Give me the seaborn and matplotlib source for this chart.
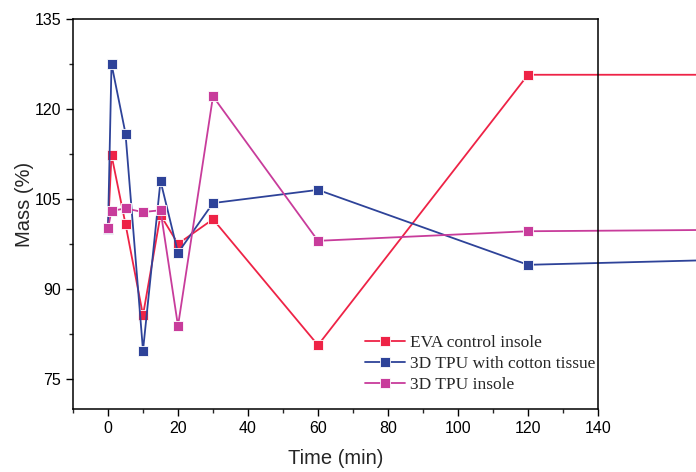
import numpy as np
import pandas as pd
import matplotlib
matplotlib.use("Agg")
import matplotlib.pyplot as plt
from matplotlib.ticker import MultipleLocator
import seaborn as sns

# time points (min); last one sits past the axis limit, as in the original
time_min = [0, 1, 5, 10, 15, 20, 30, 60, 120, 180]
eva_control = [100.0, 112.3, 100.8, 85.6, 102.3, 97.5, 101.6, 80.6, 125.7, 125.7]
tpu_cotton = [100.0, 127.5, 115.9, 79.7, 108.0, 96.0, 104.3, 106.5, 94.0, 94.9]
tpu_insole = [100.1, 103.0, 103.4, 102.8, 103.1, 83.8, 122.1, 98.0, 99.6, 99.85]
labels = ["EVA control insole", "3D TPU with cotton tissue", "3D TPU insole"]
colors = ["#EE2346", "#2E4399", "#C83C9B"]

df = pd.concat([
    pd.DataFrame({"Time (min)": time_min, "Mass (%)": vals, "sample": lab})
    for vals, lab in zip([eva_control, tpu_cotton, tpu_insole], labels)
])

sns.set_style("ticks")
plt.rcParams['font.family'] = ['Liberation Sans', 'DejaVu Sans']

fig = plt.figure(figsize=(6.96, 4.72), dpi=100)
ax = fig.add_axes([73 / 696, 1 - 408.7 / 472, 525 / 696, 389.7 / 472])

sns.lineplot(data=df, x="Time (min)", y="Mass (%)", hue="sample",
             palette=colors, marker="s", markersize=7.5, markeredgecolor="white",
             markeredgewidth=0.6, linewidth=1.3, dashes=False, sort=False,
             estimator=None, ax=ax, clip_on=False)

ax.set_xlim(-10, 140)
ax.set_ylim(70, 135)
ax.xaxis.set_major_locator(MultipleLocator(20))
ax.xaxis.set_minor_locator(MultipleLocator(10))
ax.yaxis.set_minor_locator(MultipleLocator(7.5))
ax.set_yticks([75, 90, 105, 120, 135])
ax.tick_params(which="major", direction="out", length=5, width=1, labelsize=11.5, colors="black")
ax.tick_params(which="minor", direction="out", length=3, width=1)
for s in ax.spines.values():
    s.set_visible(True)
    s.set_linewidth(1.1)
    s.set_color("black")

ax.set_xlabel("Time (min)", fontsize=14.5, labelpad=10)
ax.set_ylabel("Mass (%)", fontsize=14.5)
ax.yaxis.set_label_coords(-0.074, 0.523)

handles, _ = ax.get_legend_handles_labels()
leg = ax.legend(handles, labels, loc="lower left",
                bbox_to_anchor=((358 - 73) / 525, 0.022), borderaxespad=0,
                frameon=False, handlelength=2.3, handletextpad=0.3,
                labelspacing=0.28, prop={"family": "Liberation Serif", "size": 12.5})

fig.savefig("out.png", dpi=100)
